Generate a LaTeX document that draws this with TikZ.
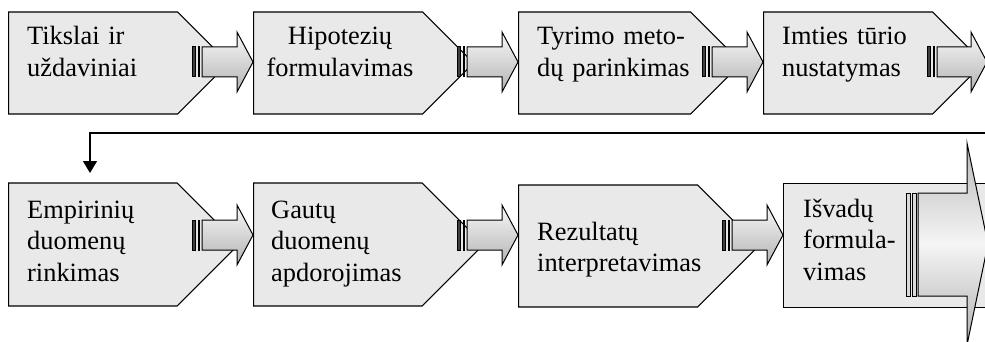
\documentclass[tikz,border=0pt]{standalone}
\usepackage{fontspec}
\setmainfont{Liberation Serif}
\usetikzlibrary{shapes.symbols,arrows.meta}
\definecolor{boxfill}{RGB}{233,233,233}
\tikzset{
  stage/.style={draw=black, line width=1.2pt, fill=boxfill, inner sep=0pt},
  pointed/.style={stage, signal, signal to=east, signal pointer angle=90},
  steptext/.style={font=\fontsize{26.4pt}{31.5pt}\selectfont, inner sep=0pt,
    text width=200pt, align=left, anchor=base west},
  stripe/.style={draw=black, line width=1pt, fill=black!75},
  arrowbody/.style={draw=black, line width=1pt, top color=gray!5, bottom color=gray!60},
  bigbody/.style={draw=black, line width=1pt, top color=gray!55, bottom color=gray!62, middle color=gray!8},
  bigstripe/.style={draw=black, line width=1pt, fill=gray!30},
  flow/.style={draw=black, line width=1.3pt, -{Triangle[length=12pt,width=14pt]}}
}
% striped block arrow: #1 = x of the first stripe, #2 = centre y, #3 = x of the tip
\newcommand{\stripearrow}[3]{%
  \path[stripe] (#1+0.5,#2-15) rectangle (#1+3.5,#2+15);
  \path[stripe] (#1+6.5,#2-15) rectangle (#1+7.5,#2+15);
  \path[arrowbody] (#1+10,#2-15) -- (#3-16,#2-15) -- (#3-16,#2-30) -- (#3,#2)
    -- (#3-16,#2+30) -- (#3-16,#2+15) -- (#1+10,#2+15) -- cycle;
}
\begin{document}
\begin{tikzpicture}[x=1pt, y=-1pt]
  \useasboundingbox (0,0) rectangle (985,342);
  \clip (0,0) rectangle (985,342);

  % first row of stages
  \node[pointed, minimum width=220pt, minimum height=102pt, anchor=west] (b1) at (8,63) {};
  \node[pointed, minimum width=220pt, minimum height=102pt, anchor=west] (b2) at (253,63) {};
  \node[pointed, minimum width=223pt, minimum height=102pt, anchor=west] (b3) at (518,63) {};
  \node[pointed, minimum width=220pt, minimum height=102pt, anchor=west] (b4) at (763,63) {};

  % second row of stages
  \node[pointed, minimum width=230pt, minimum height=123pt, anchor=west] (b5) at (8,244.5) {};
  \node[pointed, minimum width=230pt, minimum height=123pt, anchor=west] (b6) at (253,244.5) {};
  \node[pointed, minimum width=240pt, minimum height=122pt, anchor=west] (b7) at (518,246) {};
  \node[stage, rectangle, minimum width=215pt, minimum height=124pt, anchor=north west] (b8) at (783,183) {};

  % block arrows between the stages
  \stripearrow{192}{62}{253}
  \stripearrow{457}{62}{518}
  \stripearrow{702}{62}{763}
  \stripearrow{927}{62}{987}
  \stripearrow{192}{235}{253}
  \stripearrow{457}{235}{518}
  \stripearrow{722}{235}{783}

  % final large arrow
  \path[bigstripe] (906.5,193) rectangle (910.5,296);
  \path[bigstripe] (912.5,193) rectangle (916.5,296);
  \path[bigbody] (918,193) -- (967,193) -- (967,143) -- (988,244) -- (967,345)
    -- (967,296) -- (918,296) -- cycle;

  % line carrying the flow to the second row
  \coordinate (wrap) at (990,133);
  \coordinate (drop) at (90,173);
  \draw[flow] (wrap) -| (drop);

  % stage texts
  \node[steptext] (t1) at (27,45) {Tikslai ir\\uždaviniai};
  \node[steptext, align=center, anchor=base, text width=180pt] (t2) at (340,45) {Hipotezių\\formulavimas};
  \node[steptext] (t3) at (537,45) {Tyrimo meto-\\dų parinkimas};
  \node[steptext] (t4) at (782,45) {Imties tūrio\\nustatymas};
  \node[steptext] (t5) at (27,218) {Empirinių\\duomenų\\rinkimas};
  \node[steptext] (t6) at (271,218) {Gautų\\duomenų\\apdorojimas};
  \node[steptext] (t7) at (537,240) {Rezultatų\\interpretavimas};
  \node[steptext] (t8) at (803,217) {Išvadų\\formula-\\vimas};
\end{tikzpicture}
\end{document}
